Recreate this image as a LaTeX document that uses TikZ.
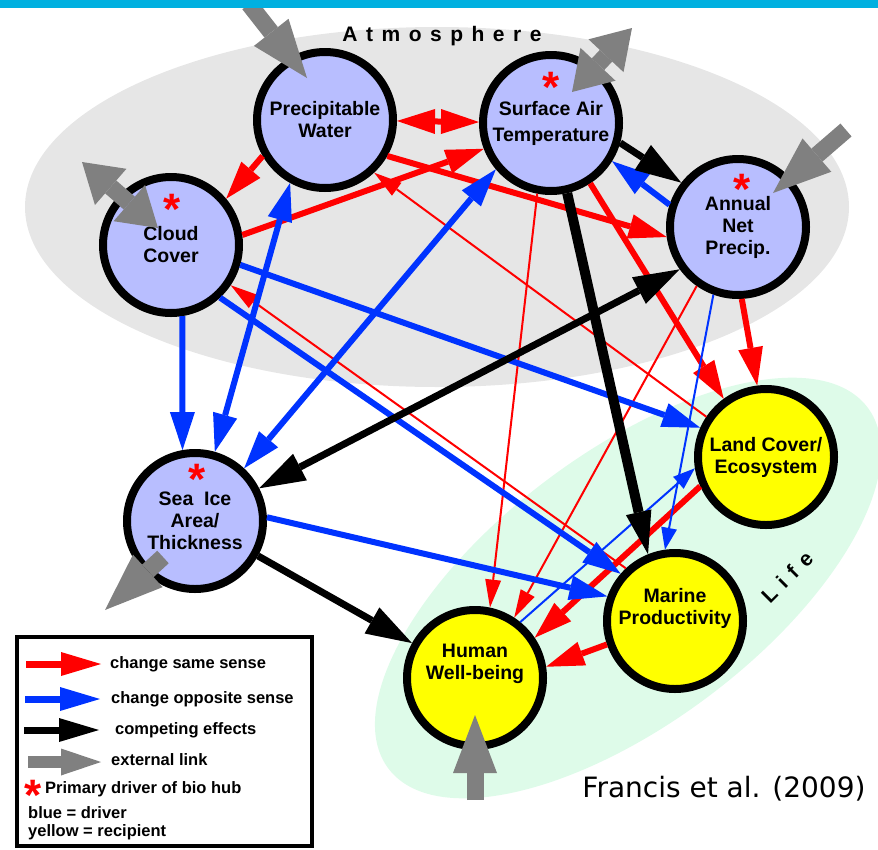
\documentclass[tikz,border=0pt]{standalone}
\usepackage{fontspec}
\setmainfont{Liberation Sans}
\newfontfamily\citefont{DejaVu Sans}
\usetikzlibrary{arrows.meta}
\definecolor{atmogray}{RGB}{230,230,230}
\definecolor{lifegreen}{RGB}{222,251,233}
\definecolor{hubblue}{RGB}{184,190,255}
\definecolor{hubyellow}{RGB}{255,255,0}
\definecolor{oppblue}{RGB}{0,51,255}
\definecolor{extgray}{RGB}{128,128,128}
\definecolor{topbar}{RGB}{0,176,224}
\newcommand{\lsp}{\hspace{8.5pt}}

\begin{document}
\begin{tikzpicture}[x=1pt,y=-1pt, every node/.style={font=\bfseries}, hub/.style={circle,draw,line width=8pt,minimum size=136pt,inner sep=0pt,align=center,font=\bfseries\fontsize{19.5}{22}\selectfont}, driver/.style={hub,fill=hubblue}, recip/.style={hub,fill=hubyellow}, star/.style={text=red,anchor=base,inner sep=0pt,font=\bfseries\fontsize{44}{44}\selectfont}, legtext/.style={anchor=west,inner sep=0pt,font=\bfseries\fontsize{16.5}{19}\selectfont}, same/.style={draw=red,line width=6pt,>={Triangle[length=38pt,width=25pt,line width=0pt]},->}, samethin/.style={draw=red,line width=2pt,>={Triangle[length=28pt,width=16pt,line width=0pt]},->}, opp/.style={draw=oppblue,line width=6pt,>={Triangle[length=38pt,width=25pt,line width=0pt]},->}, oppthin/.style={draw=oppblue,line width=2pt,>={Triangle[length=22pt,width=16pt,line width=0pt]},->}, comp/.style={draw=black,line width=7pt,>={Triangle[length=46pt,width=30pt,line width=0pt]},->}, ext/.style={draw=extgray,line width=17pt,>={Triangle[length=58pt,width=44pt,line width=0pt]},->}, extboth/.style={ext,>={Triangle[length=38pt,width=48pt,line width=0pt]},<->}, leg/.style={line width=7pt,>={Triangle[length=40pt,width=24pt,line width=0pt]}}]
\useasboundingbox (0,0) rectangle (878,849);
\fill[atmogray] (437,207) ellipse [x radius=412, y radius=180];
\fill[lifegreen, rotate around={37:(628,588)}] (628,588) ellipse [x radius=300, y radius=135];
\node[anchor=base,font=\bfseries\fontsize{21}{23}\selectfont] (atmo) at (442,41) {A\lsp t\lsp m\lsp o\lsp s\lsp p\lsp h\lsp e\lsp r\lsp e};
\node[rotate=45,font=\bfseries\fontsize{21}{23}\selectfont] (life) at (787,577) {L\lsp i\lsp f\lsp e};

\node[driver] (pw) at (325,120) {Precipitable\\Water};
\node[driver,font=\bfseries\fontsize{19.5}{26}\selectfont] (sat) at (551,123) {Surface Air\\Temperature};
\node[driver] (anp) at (738,227) {Annual\\Net\\Precip.};
\node[driver] (cc) at (171,245) {Cloud\\Cover};
\node[driver] (si) at (195,521) {Sea\ \ Ice\\Area/\\Thickness};
\node[recip] (lc) at (766,457) {Land Cover/\\Ecosystem};
\node[recip,text depth=30pt] (mp) at (675,621) {Marine\\Productivity};
\node[recip,text depth=32pt] (hw) at (475,678) {Human\\Well-being};
\node[star] (satstar) at (551,102) {*};
\node[star] (ccstar) at (172,224) {*};
\node[star] (anpstar) at (742,204) {*};
\node[star] (sistar) at (197,494) {*};

\draw[same,<->] (pw) -- (sat); \draw[same] (pw.210) -- (cc.40); \draw[same] (cc.8) -- (sat.201); \draw[same] (pw.-30) -- (anp.188);
\draw[same] (sat.-57) -- (lc.126); \draw[same] (anp.-87) -- (lc.97); \draw[same] (lc.204) -- (hw.34); \draw[same] (mp.199) -- (hw.9);
\draw[samethin] (lc.146) -- (pw.-47); \draw[samethin] (mp.133) -- (cc.-34); \draw[samethin] (sat.-101) -- (hw.78); \draw[samethin] (anp.-125) -- (hw.57);
\draw[opp] (cc.-81) -- (si.100); \draw[opp,<->] (pw.-119) -- (si.74); \draw[opp,<->] (sat.220) -- (si.47); \draw[opp] (anp.162) -- (sat.-32);
\draw[opp] (cc.-16) -- (lc.156); \draw[opp] (cc.-47) -- (mp.139); \draw[opp] (si.3) -- (mp.160);
\draw[oppthin] (anp.-110) -- (mp.98); \draw[oppthin] (hw.51) -- (lc.189);
\draw[comp] (sat.-16) -- (anp.142); \draw[comp,line width=10pt,>={Triangle[length=43pt,width=26pt,line width=0pt]}] (sat.-77) -- (mp.112);
\draw[comp,<->] (si.27) -- (anp.216); \draw[comp] (si.-29) -- (hw.151);

\coordinate (pwout) at (249,4); \coordinate (pwin) at (307,78);
\coordinate (satout) at (632,28); \coordinate (satin) at (572,92);
\coordinate (ccout) at (82,162); \coordinate (ccin) at (158,228);
\coordinate (anpout) at (846,130); \coordinate (anpin) at (773,193);
\coordinate (siin) at (163,557); \coordinate (siout) at (105,610);
\coordinate (hwout) at (475,800); \coordinate (hwin) at (475,715);
\draw[ext] (pwout) -- (pwin); \draw[extboth] (satout) -- (satin); \draw[extboth] (ccout) -- (ccin);
\draw[ext] (anpout) -- (anpin); \draw[ext] (siin) -- (siout); \draw[ext] (hwout) -- (hwin);
\fill[topbar] (0,0) rectangle (878,8);

\draw[line width=4pt] (17,637) rectangle (312,846);
\coordinate (l1a) at (26,664); \coordinate (l1b) at (101,664);
\coordinate (l2a) at (25,699); \coordinate (l2b) at (100,699);
\coordinate (l3a) at (24,730); \coordinate (l3b) at (99,730);
\coordinate (l4a) at (28,762); \coordinate (l4b) at (101,762);
\draw[same,leg] (l1a) -- (l1b); \draw[opp,leg] (l2a) -- (l2b); \draw[comp,leg] (l3a) -- (l3b); \draw[ext,leg,line width=12pt,>={Triangle[length=40pt,width=27pt,line width=0pt]}] (l4a) -- (l4b);
\node[legtext] (leg1) at (110,664) {change same sense};
\node[legtext] (leg2) at (111,699) {change opposite sense};
\node[legtext] (leg3) at (115,730) {competing effects};
\node[legtext] (leg4) at (111,760) {external link};
\node[star] (legstar) at (33,810) {*};
\node[legtext] (leg5) at (45,789) {Primary driver of bio hub};
\node[legtext] (leg6) at (28,813) {blue = driver};
\node[legtext] (leg7) at (28,832) {yellow = recipient};
\node[anchor=base,font=\citefont\fontsize{28}{30}\selectfont] (cite) at (724,797) {Francis et al. (2009)};
\end{tikzpicture}
\end{document}
